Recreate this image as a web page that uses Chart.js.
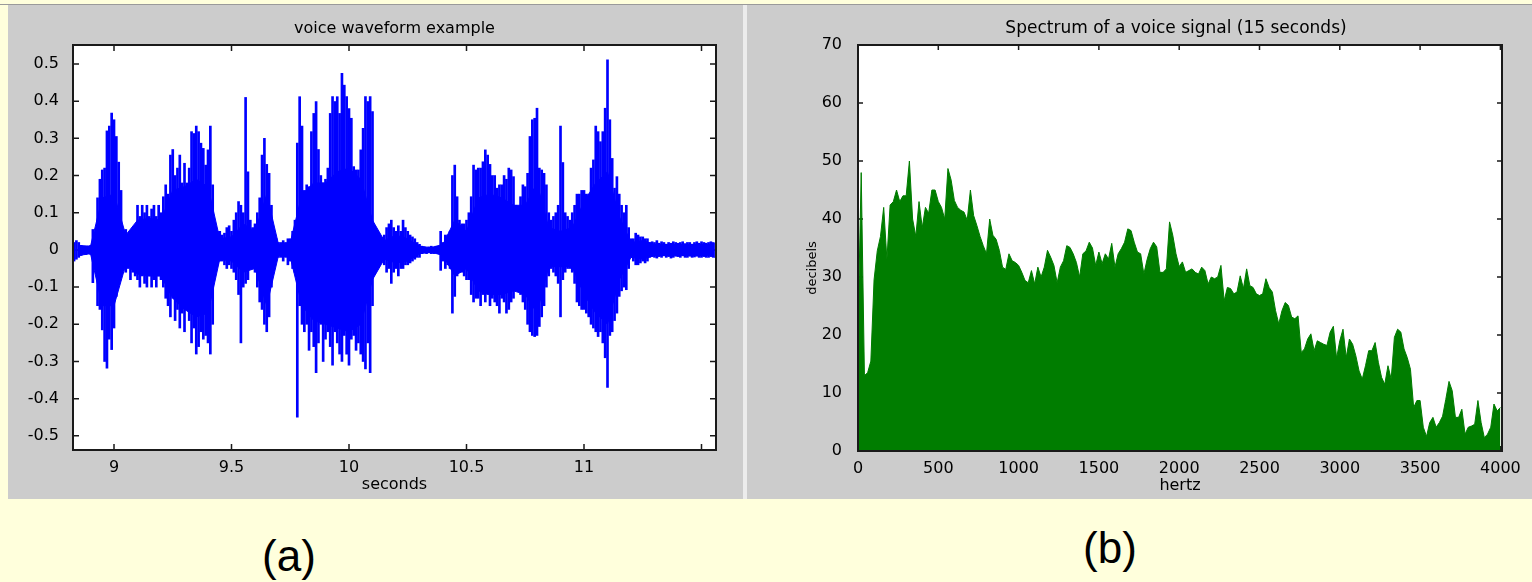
<!DOCTYPE html>
<html>
<head>
<meta charset="utf-8">
<title>voice waveform and spectrum</title>
<script src="https://cdn.jsdelivr.net/npm/chart.js"></script>
<style>
  html, body { margin: 0; padding: 0; }
  body { width: 1532px; height: 582px; background: #ffffdc; position: relative; overflow: hidden; }
  .topline { position: absolute; left: 0; top: 4px; width: 1532px; height: 1px; background: #9a9a9a; }
  .panel { position: absolute; top: 5px; height: 494px; background: #cccccc; }
  #panelA { left: 8px; width: 735px; }
  #panelB { left: 747px; width: 785px; }
  .divider { position: absolute; left: 743px; top: 5px; width: 4px; height: 494px; background: #ececec; }
  canvas { position: absolute; left: 0; top: 0; }
  .cap { position: absolute; width: 120px; text-align: center; font: 44px "Liberation Sans", Arial, sans-serif; line-height: 44px; color: #000; }
</style>
</head>
<body>
<div class="topline"></div>
<div class="panel" id="panelA"><canvas id="wave" width="735" height="494"></canvas></div>
<div class="divider"></div>
<div class="panel" id="panelB"><canvas id="spec" width="785" height="494"></canvas></div>
<div class="cap" style="left:229px; top:534px;">(a)</div>
<div class="cap" style="left:1050px; top:526px;">(b)</div>
<script>
  // waveform: min / max of the signal in each 10 ms bin, starting at 8.83 s
  const waveStart = 8.83;
  const waveStep = 0.01;
  const waveHi = [
    0.02, 0.025, 0.02, 0.012, 0.008, 0.006, 0.01,
    0.012, 0.055, 0.02, 0.14, 0.19, 0.215, 0.22, 0.32, 0.333, 0.368,
    0.35, 0.305, 0.236, 0.16, 0.05, 0.055, 0.04, 0.05, 0.05, 0.06,
    0.12, 0.09, 0.12, 0.10, 0.12, 0.09, 0.11, 0.12, 0.09, 0.12,
    0.10, 0.143, 0.175, 0.15, 0.255, 0.27, 0.2, 0.22, 0.255, 0.18,
    0.233, 0.18, 0.22, 0.318, 0.313, 0.333, 0.318, 0.287, 0.273, 0.228,
    0.269, 0.333, 0.175, 0.06, 0.05, 0.05, 0.04, 0.045, 0.06, 0.065,
    0.05, 0.08, 0.10, 0.13, 0.12, 0.10, 0.41, 0.21, 0.08, 0.06,
    0.07, 0.10, 0.14, 0.255, 0.30, 0.23, 0.206, 0.12, 0.05, 0.03,
    0.02, 0.02, 0.025, 0.02, 0.03, 0.03, 0.05, 0.08, 0.287, 0.412,
    0.333, 0.16, 0.175, 0.17, 0.318, 0.367, 0.399, 0.27, 0.2, 0.18,
    0.19, 0.22, 0.367, 0.412, 0.399, 0.412, 0.367, 0.475, 0.443, 0.412,
    0.38, 0.354, 0.224, 0.215, 0.215, 0.269, 0.327, 0.412, 0.399, 0.412,
    0.372, 0.05, 0.03, 0.025, 0.03, 0.04, 0.06, 0.07, 0.08, 0.06,
    0.05, 0.065, 0.05, 0.08, 0.06, 0.05, 0.04, 0.035, 0.03, 0.02,
    0.015, 0.01, 0.008, 0.005, 0.008, 0.01, 0.008, 0.01, 0.01, 0.05,
    0.02, 0.04, 0.04, 0.05, 0.20, 0.228, 0.143, 0.08, 0.07, 0.07,
    0.08, 0.10, 0.143, 0.228, 0.215, 0.22, 0.22, 0.237, 0.269, 0.255,
    0.23, 0.2, 0.2, 0.166, 0.175, 0.175, 0.2, 0.19, 0.22, 0.215,
    0.197, 0.12, 0.10, 0.143, 0.175, 0.17, 0.206, 0.305, 0.35, 0.354,
    0.381, 0.22, 0.215, 0.206, 0.175, 0.10, 0.08, 0.09, 0.10, 0.12,
    0.333, 0.235, 0.10, 0.09, 0.08, 0.10, 0.12, 0.15, 0.15, 0.16,
    0.16, 0.15, 0.15, 0.22, 0.242, 0.333, 0.318, 0.291, 0.318, 0.381,
    0.511, 0.35, 0.246, 0.166, 0.197, 0.15, 0.12, 0.10, 0.12, 0.06,
    0.03, 0.03, 0.045, 0.04, 0.035, 0.035, 0.03, 0.03, 0.02, 0.022,
    0.02, 0.025, 0.018, 0.022, 0.02, 0.015, 0.02, 0.018, 0.022, 0.02,
    0.018, 0.02, 0.022, 0.017, 0.02, 0.02, 0.015, 0.02, 0.022, 0.018,
    0.022, 0.02, 0.018, 0.02, 0.022, 0.02, 0.018
  ];
  const waveLo = [
    -0.03, -0.025, -0.02, -0.015, -0.01, -0.012, -0.01,
    -0.012, -0.088, -0.02, -0.15, -0.16, -0.215, -0.30, -0.318, -0.24, -0.268,
    -0.21, -0.125, -0.08, -0.06, -0.05, -0.06, -0.05, -0.08, -0.06, -0.07,
    -0.08, -0.10, -0.07, -0.09, -0.10, -0.07, -0.10, -0.08, -0.10, -0.07,
    -0.08, -0.10, -0.13, -0.15, -0.18, -0.13, -0.19, -0.16, -0.21, -0.17,
    -0.22, -0.16, -0.19, -0.25, -0.21, -0.28, -0.26, -0.22, -0.24, -0.23,
    -0.25, -0.28, -0.20, -0.05, -0.04, -0.03, -0.03, -0.04, -0.05, -0.04,
    -0.05, -0.06, -0.08, -0.12, -0.25, -0.10, -0.09, -0.08, -0.05, -0.04,
    -0.06, -0.10, -0.14, -0.16, -0.20, -0.22, -0.18, -0.10, -0.04, -0.02,
    -0.02, -0.02, -0.03, -0.02, -0.04, -0.03, -0.05, -0.06, -0.45, -0.15,
    -0.2, -0.22, -0.2, -0.27, -0.22, -0.26, -0.33, -0.25, -0.2, -0.3,
    -0.24, -0.22, -0.26, -0.31, -0.22, -0.25, -0.28, -0.30, -0.23, -0.28,
    -0.31, -0.24, -0.23, -0.27, -0.25, -0.28, -0.30, -0.32, -0.25, -0.33,
    -0.15, -0.06, -0.03, -0.03, -0.025, -0.04, -0.06, -0.05, -0.09, -0.06,
    -0.05, -0.07, -0.05, -0.05, -0.04, -0.04, -0.035, -0.03, -0.025, -0.02,
    -0.02, -0.01, -0.008, -0.01, -0.008, -0.01, -0.01, -0.008, -0.01, -0.055,
    -0.03, -0.05, -0.04, -0.05, -0.17, -0.125, -0.07, -0.06, -0.06, -0.07,
    -0.08, -0.08, -0.12, -0.14, -0.13, -0.13, -0.15, -0.12, -0.14, -0.12,
    -0.15, -0.13, -0.14, -0.15, -0.17, -0.13, -0.14, -0.17, -0.16, -0.14,
    -0.13, -0.10, -0.11, -0.12, -0.14, -0.16, -0.2, -0.22, -0.23, -0.233,
    -0.23, -0.206, -0.18, -0.15, -0.10, -0.07, -0.05, -0.06, -0.07, -0.09,
    -0.18, -0.08, -0.06, -0.05, -0.05, -0.06, -0.09, -0.14, -0.15, -0.16,
    -0.16, -0.17, -0.18, -0.2, -0.21, -0.22, -0.233, -0.22, -0.25, -0.29,
    -0.37, -0.23, -0.22, -0.19, -0.17, -0.125, -0.11, -0.10, -0.107, -0.05,
    -0.02, -0.03, -0.04, -0.04, -0.035, -0.03, -0.035, -0.03, -0.02, -0.018,
    -0.02, -0.022, -0.018, -0.02, -0.016, -0.02, -0.018, -0.022, -0.02, -0.017,
    -0.018, -0.02, -0.016, -0.02, -0.02, -0.017, -0.02, -0.019, -0.017, -0.02,
    -0.02, -0.018, -0.02, -0.02, -0.018, -0.02, -0.02
  ];
  // solid middle of the waveform, every 50 ms from 8.85 s
  const coreStart = 8.85;
  const coreStep = 0.05;
  const coreHi = [
    0.012, 0.01, 0.14, 0.15, 0.04, 0.08, 0.085, 0.08, 0.16, 0.17,
    0.19, 0.17, 0.03, 0.035, 0.07, 0.05, 0.15, 0.015, 0.02, 0.15,
    0.18, 0.18, 0.21, 0.22, 0.19, 0.08, 0.025, 0.04, 0.03, 0.01,
    0.006, 0.015, 0.08, 0.05, 0.14, 0.15, 0.14, 0.12, 0.12, 0.18,
    0.06, 0.05, 0.06, 0.13, 0.18, 0.21, 0.09, 0.02, 0.025, 0.015,
    0.015, 0.014, 0.015, 0.015, 0.014
  ];
  const coreLo = [
    -0.015, -0.01, -0.15, -0.15, -0.04, -0.065, -0.07, -0.07, -0.13, -0.16,
    -0.18, -0.17, -0.025, -0.03, -0.06, -0.05, -0.15, -0.015, -0.02, -0.15,
    -0.19, -0.2, -0.21, -0.22, -0.2, -0.08, -0.025, -0.035, -0.03, -0.01,
    -0.006, -0.015, -0.07, -0.05, -0.11, -0.12, -0.12, -0.11, -0.12, -0.17,
    -0.045, -0.045, -0.045, -0.12, -0.17, -0.2, -0.08, -0.02, -0.025, -0.015,
    -0.015, -0.014, -0.015, -0.015, -0.014
  ];
  const waveXTicks = [9, 9.5, 10, 10.5, 11, 11.5];
  const waveYTicks = [-0.5, -0.4, -0.3, -0.2, -0.1, 0, 0.1, 0.2, 0.3, 0.4, 0.5];

  // spectrum: level in dB every 20 Hz, 0 .. 4000 Hz
  const specStep = 20;
  const specDb = [
    21, 48, 13, 13.5, 15.5, 29.5, 34.5, 37, 42, 33,
    42.4, 43, 45, 43, 44, 44, 50, 40, 37, 43,
    38.5, 42, 41, 45, 45, 43, 42, 40, 48.7, 46.7,
    43.2, 42, 41.5, 41.2, 39.8, 45, 40.6, 38.9, 37, 35.4,
    34, 40, 37.2, 36.5, 34.6, 31.7, 31.3, 34, 32.8, 32.5,
    32, 30.8, 29.4, 29, 31.1, 28.8, 31.7, 30, 31.7, 34.6,
    33.4, 32, 29, 31.7, 32.8, 35.4, 35.1, 34, 32.5, 30,
    34, 34.5, 36, 35, 32, 34.3, 32.3, 34, 33.1, 35.8,
    31.7, 34, 34.9, 36, 38.3, 38, 36, 34.3, 34, 30.5,
    33, 34.9, 36, 35.2, 30.8, 30.8, 31.4, 39.5, 37.2, 34,
    31.8, 32.6, 30.8, 31.1, 31.4, 30.8, 30.5, 31.7, 31.1, 28.8,
    30, 29.7, 30, 32, 25.9, 28.2, 28, 27.1, 27.4, 30.2,
    28, 31.4, 28.5, 28.2, 27.1, 26.8, 27.1, 29.7, 28.2, 27.4,
    24.2, 21.9, 24.2, 25.6, 25.1, 23.1, 22.8, 23.3, 17, 17.6,
    19.3, 20.2, 17.3, 19, 18.7, 18.4, 18.2, 20.5, 21.5, 16,
    19, 21, 16.1, 19.3, 18.4, 16.4, 13.8, 12.4, 14.7, 17.3,
    17.3, 18.7, 15.3, 12.7, 11.5, 14.7, 12.4, 19.6, 21, 20.5,
    17.6, 16.1, 14.1, 7.5, 8.7, 8.7, 4.1, 2.5, 4.9, 5.8,
    4.1, 4.9, 6, 8.9, 12, 10.4, 5.8, 5.8, 7.2, 2.9,
    4.1, 4.3, 4.6, 8.7, 4.9, 2.3, 2.9, 4.1, 8.1, 6.9,
    7.5
  ];
  const specXTicks = [0, 500, 1000, 1500, 2000, 2500, 3000, 3500, 4000];
  const specYTicks = [0, 10, 20, 30, 40, 50, 60, 70];

  const FONT = '"DejaVu Sans", "Liberation Sans", sans-serif';

  // matlab style box: white plot area, inward ticks on all four sides, dark frame, titles
  const boxAxes = {
    id: 'boxAxes',
    beforeDatasetsDraw(chart, args, opts) {
      const {ctx, chartArea: a, scales} = chart;
      ctx.save();
      ctx.fillStyle = '#ffffff';
      ctx.fillRect(a.left, a.top, a.width, a.height);
      ctx.strokeStyle = '#1a1a1a';
      ctx.lineWidth = 1.5;
      ctx.beginPath();
      scales.x.ticks.forEach(t => {
        const px = scales.x.getPixelForValue(t.value);
        ctx.moveTo(px, a.bottom); ctx.lineTo(px, a.bottom - opts.len);
        ctx.moveTo(px, a.top); ctx.lineTo(px, a.top + opts.len);
      });
      scales.y.ticks.forEach(t => {
        const py = scales.y.getPixelForValue(t.value);
        ctx.moveTo(a.left, py); ctx.lineTo(a.left + opts.len, py);
        ctx.moveTo(a.right, py); ctx.lineTo(a.right - opts.len, py);
      });
      ctx.stroke();
      ctx.restore();
    },
    afterDatasetsDraw(chart, args, opts) {
      const {ctx, chartArea: a} = chart;
      ctx.save();
      ctx.strokeStyle = '#1a1a1a';
      ctx.lineWidth = 2;
      ctx.strokeRect(a.left, a.top, a.width, a.height);
      ctx.fillStyle = '#000';
      ctx.font = opts.titleSize + 'px ' + FONT;
      ctx.textAlign = 'center';
      ctx.textBaseline = 'alphabetic';
      ctx.fillText(opts.title, (a.left + a.right) / 2 + opts.titleDx, opts.titleY);
      if (opts.yLabel) {
        ctx.font = '13px ' + FONT;
        ctx.translate(opts.yLabelX, opts.yLabelY);
        ctx.rotate(-Math.PI / 2);
        ctx.textBaseline = 'middle';
        ctx.fillText(opts.yLabel, 0, 0);
      }
      ctx.restore();
    }
  };

  const tickFont = {family: FONT, size: 16};

  new Chart(document.getElementById('wave'), {
    type: 'bar',
    data: {
      datasets: [
        {
          type: 'line',
          data: coreHi.map((v, i) => ({x: coreStart + i * coreStep, y: v})),
          borderColor: '#0000ff',
          backgroundColor: '#0000ff',
          borderWidth: 1,
          pointRadius: 0,
          fill: '+1'
        },
        {
          type: 'line',
          data: coreLo.map((v, i) => ({x: coreStart + i * coreStep, y: v})),
          borderColor: '#0000ff',
          borderWidth: 1,
          pointRadius: 0,
          fill: false
        },
        {
          type: 'bar',
          data: waveHi.map((v, i) => ({x: waveStart + i * waveStep, y: [waveLo[i], v]})),
          backgroundColor: '#0000ff',
          borderWidth: 0,
          barThickness: 2
        }
      ]
    },
    options: {
      responsive: false,
      animation: false,
      events: [],
      layout: {padding: {left: 0, right: 27, top: 40, bottom: 0}},
      plugins: {
        legend: {display: false},
        tooltip: {enabled: false},
        boxAxes: {len: 6, title: 'voice waveform example', titleY: 28, titleSize: 16, titleDx: 0}
      },
      scales: {
        x: {
          type: 'linear',
          min: 8.8255,
          max: 11.5617,
          offset: false,
          grid: {display: false, offset: false},
          border: {display: false},
          afterBuildTicks: s => { s.ticks = waveXTicks.map(v => ({value: v})); },
          afterFit: s => { s.height = 49; },
          ticks: {
            font: tickFont, color: '#000', padding: 0, maxRotation: 0, autoSkip: false,
            callback: v => (v === 11.5 ? '' : String(v))
          },
          title: {display: true, text: 'seconds', font: tickFont, color: '#000', padding: {top: 0, bottom: 5}}
        },
        y: {
          min: -0.538,
          max: 0.551,
          grid: {display: false},
          border: {display: false},
          afterBuildTicks: s => { s.ticks = waveYTicks.map(v => ({value: v})); },
          afterFit: s => { s.width = 65; },
          ticks: {font: tickFont, color: '#000', padding: 6, callback: v => String(Math.round(v * 10) / 10)}
        }
      }
    },
    plugins: [boxAxes]
  });

  new Chart(document.getElementById('spec'), {
    type: 'line',
    data: {
      datasets: [{
        data: specDb.map((v, i) => ({x: i * specStep, y: v})),
        borderColor: '#007d00',
        backgroundColor: '#007d00',
        borderWidth: 1,
        pointRadius: 0,
        tension: 0,
        fill: 'origin'
      }]
    },
    options: {
      responsive: false,
      animation: false,
      events: [],
      layout: {padding: {left: 0, right: 30, top: 40, bottom: 0}},
      plugins: {
        legend: {display: false},
        tooltip: {enabled: false},
        boxAxes: {len: 5, title: 'Spectrum of a voice signal (15 seconds)', titleY: 28, titleSize: 17, titleDx: -4,
                  yLabel: 'decibels', yLabelX: 66, yLabelY: 263}
      },
      scales: {
        x: {
          type: 'linear',
          min: 0,
          max: 4010,
          grid: {display: false},
          border: {display: false},
          afterBuildTicks: s => { s.ticks = specXTicks.map(v => ({value: v})); },
          afterFit: s => { s.height = 48; },
          ticks: {font: tickFont, color: '#000', padding: 0, maxRotation: 0, autoSkip: false, callback: v => String(v)},
          title: {display: true, text: 'hertz', font: tickFont, color: '#000', padding: {top: 0, bottom: 4}}
        },
        y: {
          min: 0,
          max: 70,
          grid: {display: false},
          border: {display: false},
          afterBuildTicks: s => { s.ticks = specYTicks.map(v => ({value: v})); },
          afterFit: s => { s.width = 111; },
          ticks: {font: tickFont, color: '#000', padding: 8}
        }
      }
    },
    plugins: [boxAxes]
  });
</script>
</body>
</html>
